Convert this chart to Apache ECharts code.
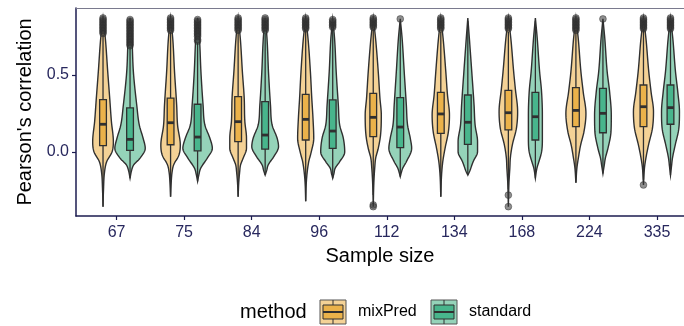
<!DOCTYPE html>
<html><head><meta charset="utf-8">
<script src="https://cdn.jsdelivr.net/npm/echarts@6/dist/echarts.min.js"></script>
<style>html,body{margin:0;padding:0;background:#fff}#c{width:684px;height:326px}</style>
</head><body><div id="c"></div>
<script>
// ---------- DATA ----------
const sampleSizes = ['67','75','84','96','112','134','168','224','335'];
const methods = ['mixPred','standard'];
const yTicks = [0, 0.5];

// box statistics
const q1Mix  = [0.041,0.047,0.067,0.078,0.100,0.121,0.143,0.165,0.165];
const medMix = [0.180,0.190,0.197,0.212,0.225,0.247,0.255,0.270,0.294];
const q3Mix  = [0.340,0.350,0.359,0.374,0.381,0.387,0.400,0.418,0.435];
const loMix  = [-0.355,-0.29,-0.29,-0.32,-0.28,-0.29,-0.24,-0.20,-0.18];
const hiMix  = [0.76,0.78,0.78,0.80,0.80,0.78,0.78,0.79,0.80];

const q1Std  = [0.010,0.007,0.019,0.024,0.028,0.050,0.078,0.125,0.180];
const medStd = [0.082,0.097,0.110,0.136,0.162,0.193,0.229,0.251,0.288];
const q3Std  = [0.286,0.310,0.327,0.338,0.353,0.370,0.387,0.413,0.435];
const loStd  = [-0.17,-0.19,-0.15,-0.17,-0.16,-0.15,-0.17,-0.14,-0.15];
const hiStd  = [0.68,0.71,0.77,0.80,0.84,0.85,0.85,0.84,0.80];

// outliers
const outMix = [
  [0.77,0.78,0.79,0.80,0.81,0.82,0.83,0.84,0.85,0.86,0.87],
  [0.79,0.80,0.81,0.82,0.83,0.84,0.85,0.86,0.87],
  [0.79,0.80,0.81,0.82,0.83,0.84,0.85,0.86,0.87],
  [0.80,0.81,0.82,0.83,0.84,0.85,0.86,0.87],
  [0.81,0.82,0.83,0.84,0.85,0.86,0.87,-0.344,-0.355],
  [0.80,0.81,0.82,0.83,0.84,0.85,0.86,0.87],
  [0.80,0.81,0.82,0.83,0.84,0.85,0.86,0.87,-0.28,-0.355],
  [0.79,0.80,0.81,0.82,0.83,0.84,0.85,0.86,0.87],
  [0.80,0.81,0.82,0.83,0.84,0.85,0.86,0.87,-0.214]
];
const outStd = [
  [0.69,0.70,0.71,0.72,0.73,0.74,0.75,0.76,0.77,0.78,0.79,0.80,0.81,0.82,0.83,0.84,0.85,0.86],
  [0.72,0.73,0.75,0.76,0.77,0.78,0.79,0.80,0.81,0.82,0.83,0.84,0.85,0.86],
  [0.79,0.80,0.81,0.82,0.83,0.84,0.85,0.86,0.87],
  [0.81,0.82,0.83,0.84,0.85,0.86],
  [0.864],
  [],
  [],
  [0.864],
  [0.80,0.81,0.82,0.83,0.84,0.85,0.86,0.87]
];

// violin density profiles: [value, relative density]
const violinMix = [
  [[-0.355,0],[-0.25,0.03],[-0.13,0.10],[-0.063,0.24],[0.0,0.59],[0.067,0.68],[0.20,0.55],[0.35,0.44],[0.52,0.31],[0.74,0.15],[0.87,0]],
  [[-0.29,0],[-0.20,0.04],[-0.13,0.10],[-0.084,0.20],[-0.02,0.55],[0.045,0.64],[0.175,0.46],[0.305,0.40],[0.52,0.26],[0.74,0.14],[0.87,0]],
  [[-0.29,0],[-0.20,0.04],[-0.13,0.10],[-0.084,0.16],[-0.04,0.33],[0.024,0.55],[0.089,0.55],[0.20,0.44],[0.35,0.40],[0.52,0.28],[0.74,0.14],[0.87,0]],
  [[-0.32,0],[-0.20,0.04],[-0.13,0.10],[-0.063,0.20],[0.002,0.37],[0.089,0.53],[0.219,0.48],[0.35,0.40],[0.52,0.31],[0.74,0.15],[0.87,0]],
  [[-0.355,0],[-0.20,0.04],[-0.10,0.10],[-0.04,0.16],[0.024,0.33],[0.11,0.48],[0.24,0.53],[0.35,0.44],[0.52,0.33],[0.74,0.15],[0.87,0]],
  [[-0.29,0],[-0.15,0.05],[-0.063,0.13],[0.024,0.28],[0.132,0.50],[0.24,0.57],[0.37,0.44],[0.52,0.33],[0.74,0.15],[0.87,0]],
  [[-0.355,0],[-0.20,0.04],[-0.10,0.10],[-0.04,0.13],[0.045,0.26],[0.154,0.53],[0.262,0.61],[0.41,0.46],[0.52,0.35],[0.74,0.16],[0.87,0]],
  [[-0.20,0],[-0.10,0.07],[-0.04,0.16],[0.045,0.31],[0.132,0.53],[0.25,0.66],[0.39,0.48],[0.52,0.33],[0.74,0.15],[0.87,0]],
  [[-0.214,0],[-0.10,0.07],[-0.04,0.16],[0.045,0.33],[0.154,0.59],[0.262,0.66],[0.39,0.50],[0.52,0.35],[0.74,0.16],[0.87,0]]
];
const violinStd = [
  [[-0.17,0],[-0.12,0.10],[-0.084,0.24],[-0.04,0.66],[0.024,1.0],[0.089,0.86],[0.175,0.61],[0.305,0.44],[0.52,0.22],[0.74,0.12],[0.87,0]],
  [[-0.19,0],[-0.15,0.08],[-0.106,0.20],[-0.04,0.64],[0.024,0.97],[0.089,0.81],[0.175,0.48],[0.305,0.36],[0.52,0.22],[0.74,0.12],[0.87,0]],
  [[-0.15,0],[-0.12,0.10],[-0.084,0.20],[-0.03,0.57],[0.035,0.88],[0.089,0.79],[0.175,0.46],[0.305,0.35],[0.52,0.22],[0.74,0.12],[0.87,0]],
  [[-0.17,0],[-0.14,0.08],[-0.106,0.16],[-0.063,0.46],[0.0,0.79],[0.089,0.70],[0.175,0.46],[0.305,0.37],[0.52,0.23],[0.74,0.12],[0.86,0]],
  [[-0.16,0],[-0.13,0.08],[-0.106,0.16],[-0.063,0.40],[0.024,0.75],[0.089,0.66],[0.175,0.48],[0.305,0.40],[0.52,0.26],[0.74,0.12],[0.864,0]],
  [[-0.15,0],[-0.13,0.10],[-0.063,0.35],[0.002,0.64],[0.067,0.64],[0.175,0.48],[0.305,0.41],[0.52,0.26],[0.74,0.10],[0.87,0]],
  [[-0.17,0],[-0.106,0.10],[-0.063,0.23],[0.002,0.41],[0.089,0.46],[0.24,0.46],[0.40,0.40],[0.52,0.28],[0.74,0.12],[0.87,0]],
  [[-0.14,0],[-0.09,0.08],[-0.04,0.16],[0.024,0.33],[0.132,0.53],[0.24,0.55],[0.39,0.44],[0.52,0.28],[0.74,0.12],[0.864,0]],
  [[-0.15,0],[-0.09,0.07],[-0.04,0.13],[0.045,0.31],[0.154,0.55],[0.262,0.59],[0.39,0.48],[0.52,0.33],[0.74,0.15],[0.87,0]]
];

// ---------- STYLE ----------
const FONT = '"Liberation Sans", Arial, sans-serif';
const boxCol = { mixPred: '#EBB24A', standard: '#48B58C' };
const vioCol = { mixPred: '#F4D296', standard: '#95D3B9' };
const LINE = '#303030';
const NAVY = '#1c1c50';
const LABEL = '#28285e';
const DODGE = 0.2, VMAX = 0.225, BOXW = 0.1;

// monotone cubic densify of a profile (for drawing only)
function densify(k) {
  const n = k.length, xs = k.map(p => p[0]), ys = k.map(p => p[1]);
  const d = [], m = new Array(n);
  for (let i = 0; i < n - 1; i++) d.push((ys[i+1]-ys[i])/(xs[i+1]-xs[i]));
  m[0] = d[0]; m[n-1] = d[n-2];
  for (let i = 1; i < n - 1; i++) m[i] = (d[i-1]*d[i] <= 0) ? 0 : (d[i-1]+d[i])/2;
  for (let i = 0; i < n - 1; i++) {
    if (d[i] === 0) { m[i] = 0; m[i+1] = 0; continue; }
    const a = m[i]/d[i], b = m[i+1]/d[i], s = a*a + b*b;
    if (s > 9) { const t = 3/Math.sqrt(s); m[i] = t*a*d[i]; m[i+1] = t*b*d[i]; }
  }
  const out = [];
  for (let i = 0; i < n - 1; i++) {
    const h = xs[i+1]-xs[i], N = 10;
    for (let j = 0; j < N; j++) {
      const t = j/N, t2 = t*t, t3 = t2*t;
      const y = (2*t3-3*t2+1)*ys[i] + (t3-2*t2+t)*h*m[i] + (-2*t3+3*t2)*ys[i+1] + (t3-t2)*h*m[i+1];
      out.push([xs[i] + t*h, Math.max(0, y)]);
    }
  }
  out.push([xs[n-1], ys[n-1]]);
  return out;
}

function makeSeries(method, q1, med, q3, lo, hi, prof, sign) {
  const data = sampleSizes.map((s, i) => [i + 1 + sign*DODGE, q1[i], med[i], q3[i], lo[i], hi[i]]);
  return {
    type: 'custom', name: method, coordinateSystem: 'cartesian2d',
    data: data, encode: { x: 0, y: [1,2,3,4,5] },
    renderItem: function (params, api) {
      const i = params.dataIndex, xc = api.value(0);
      const pts = densify(prof[i]);
      const right = pts.map(p => api.coord([xc + p[1]*VMAX, p[0]]));
      const left = pts.slice().reverse().map(p => api.coord([xc - p[1]*VMAX, p[0]]));
      const tl = api.coord([xc - BOXW/2, api.value(3)]);
      const br = api.coord([xc + BOXW/2, api.value(1)]);
      const mL = api.coord([xc - BOXW/2, api.value(2)]);
      const mR = api.coord([xc + BOXW/2, api.value(2)]);
      const c = api.coord([xc, 0])[0];
      const yq1 = api.coord([xc, api.value(1)])[1], yq3 = api.coord([xc, api.value(3)])[1];
      const ylo = api.coord([xc, api.value(4)])[1], yhi = api.coord([xc, api.value(5)])[1];
      return {
        type: 'group',
        children: [
          { type: 'polygon', shape: { points: right.concat(left) },
            style: { fill: vioCol[method], stroke: LINE, lineWidth: 1.4 } },
          { type: 'line', shape: { x1: c, y1: yq3, x2: c, y2: yhi }, style: { stroke: LINE, lineWidth: 1.3 } },
          { type: 'line', shape: { x1: c, y1: yq1, x2: c, y2: ylo }, style: { stroke: LINE, lineWidth: 1.3 } },
          { type: 'rect', shape: { x: tl[0], y: tl[1], width: br[0]-tl[0], height: br[1]-tl[1] },
            style: { fill: boxCol[method], stroke: LINE, lineWidth: 1.3 } },
          { type: 'line', shape: { x1: mL[0], y1: mL[1], x2: mR[0], y2: mR[1] }, style: { stroke: LINE, lineWidth: 2.8 } }
        ]
      };
    }
  };
}

function outlierSeries(outs, sign) {
  const d = [];
  outs.forEach((arr, i) => arr.forEach(v => d.push([i + 1 + sign*DODGE, v])));
  return {
    type: 'scatter', data: d, symbol: 'circle', symbolSize: 6.8, z: 3,
    itemStyle: { color: 'rgba(55,55,55,0.7)', borderColor: 'rgba(40,40,40,0.7)', borderWidth: 0.8 },
    emphasis: { disabled: true }
  };
}

const chart = echarts.init(document.getElementById('c'), null, { renderer: 'canvas' });
const legendY = 312;
function keyGlyph(x, m) {
  return {
    type: 'group', x: x, y: legendY - 12,
    children: [
      { type: 'rect', shape: { x: 0, y: 0, width: 26, height: 24 }, style: { fill: vioCol[m], stroke: '#555', lineWidth: 1 } },
      { type: 'line', shape: { x1: 13, y1: 0, x2: 13, y2: 5 }, style: { stroke: LINE, lineWidth: 1 } },
      { type: 'line', shape: { x1: 13, y1: 19, x2: 13, y2: 24 }, style: { stroke: LINE, lineWidth: 1 } },
      { type: 'rect', shape: { x: 3, y: 5, width: 20, height: 14 }, style: { fill: boxCol[m], stroke: LINE, lineWidth: 1 } },
      { type: 'line', shape: { x1: 3, y1: 12, x2: 23, y2: 12 }, style: { stroke: LINE, lineWidth: 2 } }
    ]
  };
}

chart.setOption({
  animation: false,
  backgroundColor: '#fff',
  textStyle: { fontFamily: FONT },
  grid: { left: 76, right: 0, top: 8, bottom: 110, containLabel: false },
  xAxis: [{
    type: 'value', min: 0.4, max: 9.4,
    name: 'Sample size', nameLocation: 'middle', nameGap: 30,
    nameTextStyle: { fontSize: 20, color: '#000', fontFamily: FONT },
    axisLine: { show: true, onZero: false, lineStyle: { color: NAVY, width: 1.5 } },
    axisTick: { show: true, length: 4, lineStyle: { color: NAVY, width: 1.2 }, customValues: [1,2,3,4,5,6,7,8,9] },
    axisLabel: { show: true, fontSize: 16, color: LABEL, margin: 9, fontFamily: FONT,
      customValues: [1,2,3,4,5,6,7,8,9],
      formatter: v => sampleSizes[Math.round(v) - 1] },
    splitLine: { show: false }
  }, {
    type: 'value', min: 0.4, max: 9.4, position: 'top',
    axisLine: { show: true, onZero: false, lineStyle: { color: '#7a7a8e', width: 1 } },
    axisTick: { show: false }, axisLabel: { show: false }, splitLine: { show: false }
  }],
  yAxis: {
    type: 'value', min: -0.4156, max: 0.935,
    name: "Pearson's correlation", nameLocation: 'middle', nameGap: 31,
    nameTextStyle: { fontSize: 20, color: '#000', fontFamily: FONT },
    axisLine: { show: true, onZero: false, lineStyle: { color: NAVY, width: 1.5 } },
    axisTick: { show: true, length: 4, lineStyle: { color: NAVY, width: 1.2 }, customValues: yTicks },
    axisLabel: { show: true, fontSize: 16, color: LABEL, margin: 7, fontFamily: FONT,
      customValues: yTicks, formatter: v => v.toFixed(1) },
    splitLine: { show: false }
  },
  series: [
    makeSeries('mixPred', q1Mix, medMix, q3Mix, loMix, hiMix, violinMix, -1),
    makeSeries('standard', q1Std, medStd, q3Std, loStd, hiStd, violinStd, 1),
    outlierSeries(outMix, -1),
    outlierSeries(outStd, 1)
  ],
  graphic: [
    { type: 'text', x: 240, y: legendY, style: { text: 'method', fontSize: 20, fill: '#000', font: '20px ' + FONT, textVerticalAlign: 'middle' } },
    keyGlyph(320, 'mixPred'),
    { type: 'text', x: 358, y: legendY, style: { text: methods[0], fill: '#000', font: '16px ' + FONT, textVerticalAlign: 'middle' } },
    keyGlyph(431, 'standard'),
    { type: 'text', x: 469, y: legendY, style: { text: methods[1], fill: '#000', font: '16px ' + FONT, textVerticalAlign: 'middle' } }
  ]
});
</script>
</body></html>
